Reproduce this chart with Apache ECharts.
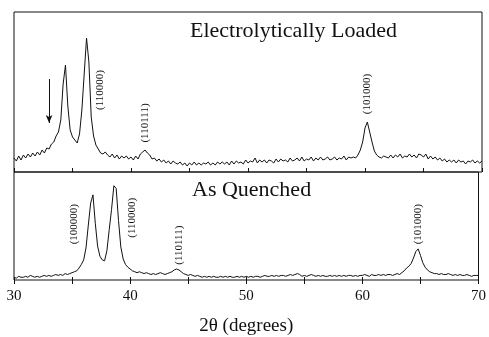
<!DOCTYPE html>
<html>
<head>
<meta charset="utf-8">
<script src="https://cdn.jsdelivr.net/npm/echarts@6/dist/echarts.min.js"></script>
<style>
  html, body { margin: 0; padding: 0; background: #fff; }
  #chart { width: 489px; height: 337px; }
</style>
</head>
<body>
<div id="chart"></div>
<script>
// 2θ scan, 0.2 degree step from 30 to 70
const angles = [];
for (let i = 0; i <= 200; i++) angles.push(+(30 + i * 0.2).toFixed(1));

// Electrolytically loaded (counts, arb. units), one row = 2 degrees
const loaded = [
  14, 11, 16, 12, 17, 14, 18, 15, 19, 16,
  20, 17, 22, 19, 24, 23, 28, 30, 36, 40,
  52, 88, 107, 66, 42, 35, 32, 29, 38, 62,
  98, 134, 110, 55, 36, 27, 23, 19, 18, 20,
  17, 15, 18, 14, 17, 13, 16, 14, 16, 13,
  15, 12, 16, 13, 18, 20, 22, 19, 17, 13,
  14, 11, 13, 10, 12, 9, 11, 8, 11, 9,
  8, 10, 7, 9, 6, 9, 7, 10, 7, 9,
  7, 9, 8, 10, 7, 9, 7, 10, 8, 10,
  8, 10, 7, 11, 8, 11, 9, 10, 8, 12,
  9, 11, 10, 14, 9, 12, 10, 12, 9, 12,
  11, 9, 13, 10, 13, 11, 12, 10, 14, 11,
  12, 14, 11, 15, 11, 13, 12, 15, 11, 14,
  12, 15, 12, 13, 15, 12, 13, 15, 12, 14,
  13, 16, 12, 15, 14, 15, 14, 17, 22, 30,
  44, 50, 40, 30, 21, 17, 15, 14, 16, 15,
  14, 17, 14, 17, 15, 18, 14, 16, 15, 18,
  15, 17, 14, 18, 17, 15, 18, 13, 16, 13,
  15, 12, 14, 11, 13, 10, 12, 10, 12, 9,
  12, 10, 11, 8, 11, 10, 12, 9, 11, 9,
  11
];

// As quenched
const quenched = [
  3, 2, 4, 3, 3, 4, 3, 5, 4, 3,
  4, 3, 4, 5, 4, 5, 4, 5, 6, 5,
  6, 5, 7, 6, 7, 8, 9, 10, 13, 17,
  22, 35, 60, 84, 93, 62, 37, 26, 22, 21,
  32, 55, 77, 103, 100, 65, 36, 23, 17, 14,
  12, 10, 9, 8, 9, 8, 7, 8, 7, 6,
  7, 6, 7, 8, 7, 6, 7, 8, 9, 11,
  12, 11, 9, 7, 6, 5, 6, 5, 4, 5,
  4, 3, 4, 3, 4, 3, 4, 3, 3, 4,
  3, 4, 3, 4, 3, 3, 4, 3, 4, 3,
  4, 3, 4, 3, 4, 4, 3, 4, 5, 4,
  4, 5, 4, 5, 4, 5, 5, 4, 5, 6,
  5, 6, 7, 6, 4, 5, 4, 5, 6, 5,
  4, 5, 4, 5, 4, 4, 5, 4, 5, 4,
  5, 4, 5, 4, 5, 5, 4, 5, 4, 5,
  5, 6, 5, 4, 6, 5, 5, 6, 5, 6,
  5, 6, 6, 5, 6, 7, 6, 8, 10, 13,
  15, 18, 24, 31, 34, 27, 19, 14, 11, 9,
  8, 7, 7, 6, 7, 6, 6, 7, 6, 5,
  6, 5, 6, 5, 5, 6, 5, 4, 5, 5,
  5
];

// peak index labels: [text, 2θ, height]
const loadedPeaks = [["(110000)", 37.35, 82], ["(110111)", 41.2, 49], ["(101000)", 60.17, 78]];
const quenchedPeaks = [["(100000)", 35.2, 61], ["(110000)", 40.17, 68], ["(110111)", 44.2, 38], ["(101000)", 64.8, 61]];
const arrowFrom = [33.0, 93];
const arrowTo = [33.0, 49];

const serif = "Liberation Serif";
const ink = "#111";

function zip(ys) {
  return ys.map((y, i) => [angles[i], y]);
}

function peakMarks(list) {
  return {
    symbol: "circle",
    symbolSize: 0,
    silent: true,
    label: {
      show: true,
      position: "inside",
      rotate: 90,
      color: ink,
      fontFamily: serif,
      fontSize: 11,
      formatter: "{b}",
    },
    data: list.map((p) => ({ name: p[0], coord: [p[1], p[2]] })),
  };
}

const hiddenX = {
  type: "value",
  min: 30,
  max: 70,
  interval: 5,
  axisLine: { show: false },
  axisTick: { show: true, inside: true, length: 4, lineStyle: { color: ink } },
  axisLabel: { show: false },
  splitLine: { show: false },
};

const chart = echarts.init(document.getElementById("chart"));
chart.setOption({
  animation: false,
  grid: [
    { left: 14, right: 7, top: 12, height: 160, show: true, borderColor: ink, borderWidth: 1 },
    { left: 14, right: 7, top: 172, height: 118, show: true, borderColor: ink, borderWidth: 1 },
  ],
  xAxis: [
    Object.assign({}, hiddenX, { gridIndex: 0, position: "bottom" }),
    Object.assign({}, hiddenX, { gridIndex: 1, position: "top" }),
    {
      type: "value",
      gridIndex: 1,
      position: "bottom",
      min: 30,
      max: 70,
      interval: 5,
      axisLine: { show: false },
      axisTick: { show: true, inside: true, length: 3, lineStyle: { color: ink } },
      axisLabel: {
        color: ink,
        fontFamily: serif,
        fontSize: 15,
        margin: 9,
        formatter: (v) => (v % 10 === 0 ? String(v) : ""),
      },
      splitLine: { show: false },
      name: "2θ (degrees)",
      nameLocation: "middle",
      nameGap: 37,
      nameTextStyle: { color: ink, fontFamily: serif, fontSize: 19 },
    },
  ],
  yAxis: [
    { type: "value", gridIndex: 0, min: 0, max: 160, show: false },
    { type: "value", gridIndex: 1, min: 0, max: 118, show: false },
  ],
  graphic: [
    { type: "text", left: 190, top: 20, style: { text: "Electrolytically Loaded", fill: ink, font: "22px " + serif } },
    { type: "text", left: 192, top: 179, style: { text: "As Quenched", fill: ink, font: "22px " + serif } },
  ],
  series: [
    {
      type: "line",
      xAxisIndex: 0,
      yAxisIndex: 0,
      data: zip(loaded),
      showSymbol: false,
      lineStyle: { color: ink, width: 1 },
      markPoint: peakMarks(loadedPeaks),
      markLine: {
        silent: true,
        symbol: ["none", "arrow"],
        symbolSize: [5, 8],
        label: { show: false },
        lineStyle: { color: ink, width: 1, type: "solid" },
        data: [[{ coord: arrowFrom }, { coord: arrowTo }]],
      },
    },
    {
      type: "line",
      xAxisIndex: 2,
      yAxisIndex: 1,
      data: zip(quenched),
      showSymbol: false,
      lineStyle: { color: ink, width: 1 },
      markPoint: peakMarks(quenchedPeaks),
    },
  ],
});
</script>
</body>
</html>
